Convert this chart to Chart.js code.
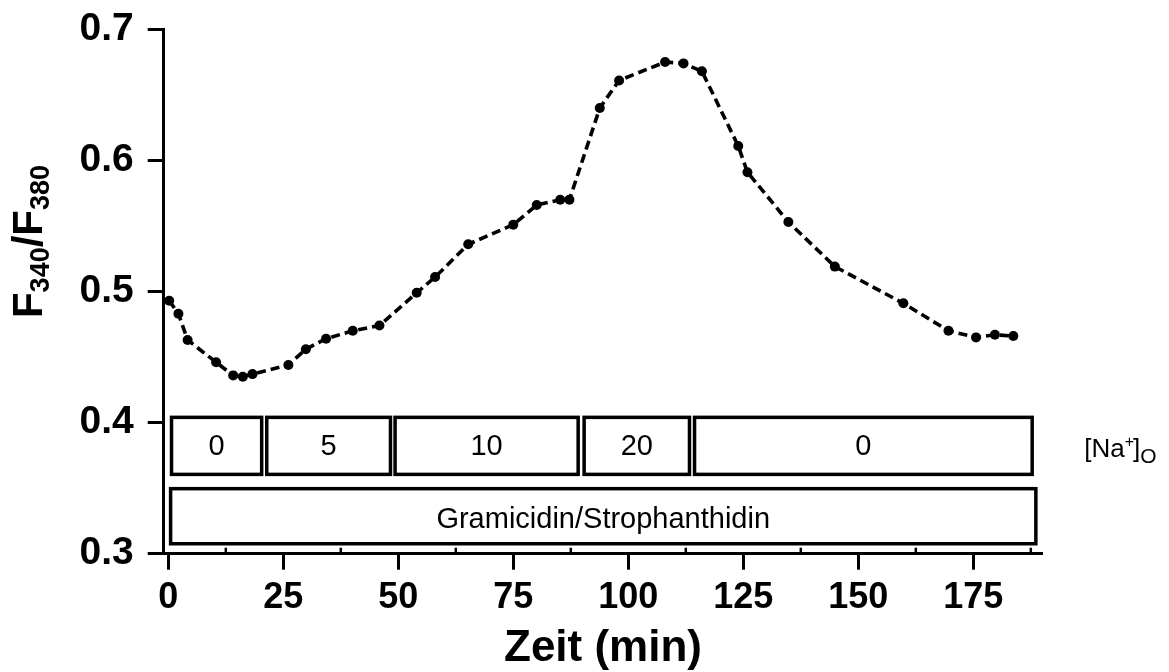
<!DOCTYPE html>
<html>
<head>
<meta charset="utf-8">
<script src="https://cdn.jsdelivr.net/npm/chart.js@4"></script>
<style>
  html, body { margin: 0; padding: 0; background: #fff; }
  #wrap { width: 1169px; height: 672px; }
</style>
</head>
<body>
<div id="wrap"><canvas id="ratioChart" width="1169" height="672"></canvas></div>
<script>
// Fura-2 Verhältnis über die Zeit
const zeit = [0.2, 2.2, 4.2, 10.4, 14.1, 16.2, 18.3, 26.1, 29.9, 34.3, 40.1, 45.9, 54.0, 58.0, 65.2, 75.0, 80.1,
    85.2, 87.2, 93.8, 98.0, 108.0, 112.0, 116.0, 123.9, 125.9, 134.8, 144.9, 159.8, 169.6, 175.6, 179.7, 183.7];
const ratio = [0.493, 0.483, 0.463, 0.446, 0.436, 0.435, 0.437, 0.444, 0.456, 0.464, 0.470, 0.474, 0.499, 0.511, 0.536, 0.551, 0.566,
    0.570, 0.570, 0.640, 0.661, 0.675, 0.674, 0.668, 0.611, 0.591, 0.553, 0.519, 0.491, 0.470, 0.465, 0.467, 0.466];

const xTicks = [0, 25, 50, 75, 100, 125, 150, 175];
const xMinorTicks = [12.5, 37.5, 62.5, 87.5, 112.5, 137.5, 162.5, 187.5];
const yTicks = [0.3, 0.4, 0.5, 0.6, 0.7];

// Na+ Konzentration (mM) pro Zeitabschnitt
const naStart = [0.7, 21.4, 49.3, 90.4, 114.4];
const naEnd = [20.3, 48.3, 89.1, 113.3, 187.8];
const naLabels = ['0', '5', '10', '20', '0'];
const naTop = 0.404, naBottom = 0.3605;

// Gramicidin/Strophanthidin über den ganzen Versuch
const drugStart = 0.5, drugEnd = 188.6;
const drugTop = 0.3496, drugBottom = 0.3076;
const drugLabel = 'Gramicidin/Strophanthidin';

const FONT = '"Liberation Sans", Arial, sans-serif';

const extras = {
    id: 'extras',
    afterDraw(chart) {
        const ctx = chart.ctx;
        const x = chart.scales.x, y = chart.scales.y;
        ctx.save();
        ctx.strokeStyle = '#000';
        ctx.fillStyle = '#000';

        // kleine Zwischenstriche an der x-Achse
        ctx.lineWidth = 2.5;
        xMinorTicks.forEach(v => {
            const px = x.getPixelForValue(v);
            ctx.beginPath();
            ctx.moveTo(px, y.bottom);
            ctx.lineTo(px, y.bottom - 6);
            ctx.stroke();
        });

        // Kästen
        ctx.lineWidth = 3.5;
        ctx.textAlign = 'center';
        ctx.textBaseline = 'middle';
        ctx.font = '29px ' + FONT;
        const t = y.getPixelForValue(naTop), b = y.getPixelForValue(naBottom);
        naStart.forEach((s, i) => {
            const l = x.getPixelForValue(s), r = x.getPixelForValue(naEnd[i]);
            ctx.strokeRect(l, t, r - l, b - t);
            ctx.fillText(naLabels[i], (l + r) / 2, (t + b) / 2 + 1);
        });
        const dl = x.getPixelForValue(drugStart), dr = x.getPixelForValue(drugEnd);
        const dt = y.getPixelForValue(drugTop), db = y.getPixelForValue(drugBottom);
        ctx.strokeRect(dl, dt, dr - dl, db - dt);
        ctx.fillText(drugLabel, (dl + dr) / 2, (dt + db) / 2 + 4);

        // [Na+]o
        ctx.textAlign = 'left';
        ctx.textBaseline = 'alphabetic';
        let cx = chart.chartArea.right + 42;
        const base = (t + b) / 2 + 11;
        ctx.font = '26px ' + FONT;
        ctx.fillText('[Na', cx, base);
        cx += ctx.measureText('[Na').width;
        ctx.font = '16px ' + FONT;
        ctx.fillText('+', cx, base - 10);
        cx += ctx.measureText('+').width - 1;
        ctx.font = '26px ' + FONT;
        ctx.fillText(']', cx, base);
        cx += ctx.measureText(']').width;
        ctx.font = '21px ' + FONT;
        ctx.fillText('O', cx, base + 6);

        // y-Achsentitel F340/F380
        const parts = [['F', 42, 0], ['340', 27, 7], ['/F', 42, 0], ['380', 27, 7]];
        let total = 0;
        parts.forEach(p => { ctx.font = 'bold ' + p[1] + 'px ' + FONT; total += ctx.measureText(p[0]).width; });
        ctx.translate(42, (y.top + y.bottom) / 2 - 50);
        ctx.rotate(-Math.PI / 2);
        let pos = -total / 2;
        parts.forEach(p => {
            ctx.font = 'bold ' + p[1] + 'px ' + FONT;
            ctx.fillText(p[0], pos, p[2]);
            pos += ctx.measureText(p[0]).width;
        });
        ctx.restore();
    }
};

new Chart(document.getElementById('ratioChart'), {
    type: 'line',
    data: {
        datasets: [{
            data: zeit.map((t, i) => ({x: t, y: ratio[i]})),
            borderColor: '#000',
            backgroundColor: '#000',
            borderWidth: 3.6,
            borderDash: [9, 5],
            pointRadius: 5,
            pointBorderWidth: 0,
            pointBackgroundColor: '#000',
            tension: 0,
            clip: false
        }]
    },
    options: {
        responsive: false,
        animation: false,
        layout: {padding: {left: 0, right: 126.7, top: 29.3, bottom: 0}},
        plugins: {legend: {display: false}, tooltip: {enabled: false}},
        scales: {
            x: {
                type: 'linear',
                min: -1,
                max: 190,
                afterBuildTicks: s => { s.ticks = xTicks.map(v => ({value: v})); },
                afterFit: s => { s.height = 118.3; s.paddingLeft = 0; s.paddingRight = 0; },
                border: {color: '#000', width: 3},
                grid: {drawOnChartArea: false, drawTicks: true, tickLength: 16, tickWidth: 3, tickColor: '#000'},
                ticks: {color: '#000', padding: 7, maxRotation: 0, font: {family: FONT, size: 36, weight: 'bold'}},
                title: {display: true, text: 'Zeit (min)', color: '#000', padding: {top: 0, bottom: -3},
                    font: {family: FONT, size: 44, weight: 'bold'}}
            },
            y: {
                min: 0.3,
                max: 0.7,
                afterBuildTicks: s => { s.ticks = yTicks.map(v => ({value: v})); },
                afterFit: s => { s.width = 163.7; s.paddingTop = 0; s.paddingBottom = 0; },
                border: {color: '#000', width: 3},
                grid: {drawOnChartArea: false, drawTicks: true, tickLength: 16, tickWidth: 3, tickColor: '#000'},
                ticks: {color: '#000', padding: 14, callback: v => v.toFixed(1),
                    font: {family: FONT, size: 39, weight: 'bold'}}
            }
        }
    },
    plugins: [extras]
});
</script>
</body>
</html>
